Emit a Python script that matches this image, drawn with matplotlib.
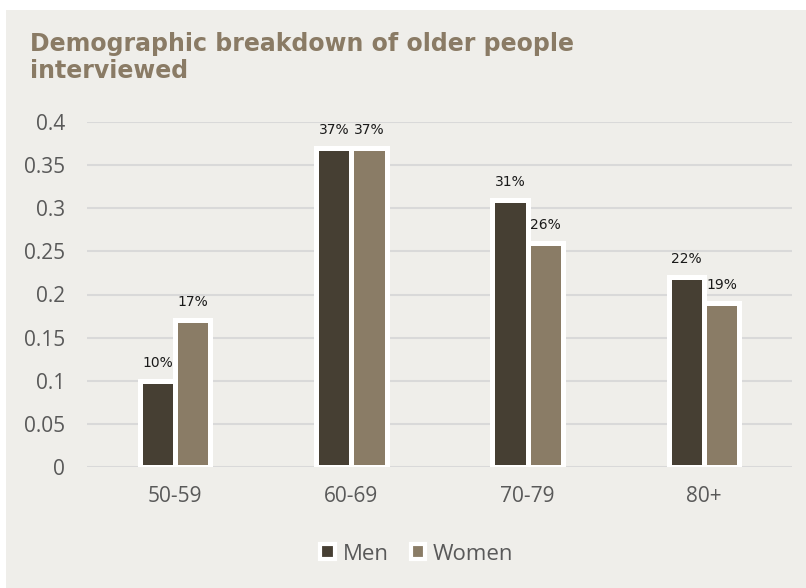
import matplotlib
matplotlib.use("Agg")
import matplotlib.pyplot as plt
from matplotlib.patches import Rectangle, Patch
from matplotlib.font_manager import FontProperties
import numpy as np

categories = ["50-59", "60-69", "70-79", "80+"]
men = [0.10, 0.37, 0.31, 0.22]
women = [0.17, 0.37, 0.26, 0.19]
yticks = [0, 0.05, 0.1, 0.15, 0.2, 0.25, 0.3, 0.35, 0.4]
ytick_labels = ["0", "0.05", "0.1", "0.15", "0.2", "0.25", "0.3", "0.35", "0.4"]

W, H = 806, 588
fig = plt.figure(figsize=(W/100, H/100), dpi=100, facecolor="white")
bg = "#EFEEEA"
fig.patches.append(Rectangle((6/W, 0), 1 - 6/W, 1 - 10/H, transform=fig.transFigure,
                             facecolor=bg, edgecolor="none", zorder=-10))

ax = fig.add_axes([87/W, (H-467)/H, 705/W, 345/H])
ax.set_facecolor("none")
x = np.arange(len(categories))
bw = 0.2
c_men = "#463F33"
c_women = "#8A7C66"
b1 = ax.bar(x - bw/2, men, bw, color=c_men, edgecolor="white", linewidth=3.6, zorder=3)
b2 = ax.bar(x + bw/2, women, bw, color=c_women, edgecolor="white", linewidth=3.6, zorder=3)

label_fp = FontProperties(family="DejaVu Sans", size=10)
for bars, vals in ((b1, men), (b2, women)):
    for rect, v in zip(bars, vals):
        ax.annotate(f"{round(v*100):.0f}%", (rect.get_x() + rect.get_width()/2, v),
                    xytext=(0, 13), textcoords="offset points", ha="center", va="center",
                    fontproperties=label_fp, color="#1a1a1a")

ax.set_xlim(-0.5, 3.5)
ax.set_ylim(0, 0.4)
ax.set_yticks(yticks)
ax.set_yticklabels(ytick_labels)
ax.set_xticks(x)
ax.set_xticklabels(categories)
for lab in ax.get_xticklabels() + ax.get_yticklabels():
    lab.set_family("Open Sans")
ax.tick_params(axis="both", length=0, labelsize=15, labelcolor="#595959")
ax.tick_params(axis="y", pad=16)
ax.tick_params(axis="x", pad=14)
ax.grid(axis="y", color="#D9D9D9", linewidth=1.5, zorder=0)
for s in ax.spines.values():
    s.set_visible(False)

title_lines = ["Demographic breakdown of older people", "interviewed"]
fig.text(30/W, 1 - 51/H, title_lines[0], ha="left", va="baseline",
         fontsize=17, fontweight="bold", color="#8A7B65", family="DejaVu Sans")
fig.text(30/W, 1 - 78/H, title_lines[1], ha="left", va="baseline",
         fontsize=17, fontweight="bold", color="#8A7B65", family="DejaVu Sans")

handles = [Patch(facecolor=c_men, edgecolor="white", linewidth=3, label="Men"),
           Patch(facecolor=c_women, edgecolor="white", linewidth=3, label="Women")]
leg = fig.legend(handles=handles, loc="center", bbox_to_anchor=(417/W, 1 - 554/H), ncol=2,
                 frameon=False, prop={"family": "Open Sans", "size": 16}, labelcolor="#595959",
                 handlelength=0.65, handleheight=0.65, handletextpad=0.35, columnspacing=1.0)

fig.savefig("out.png", dpi=100, facecolor="white")
